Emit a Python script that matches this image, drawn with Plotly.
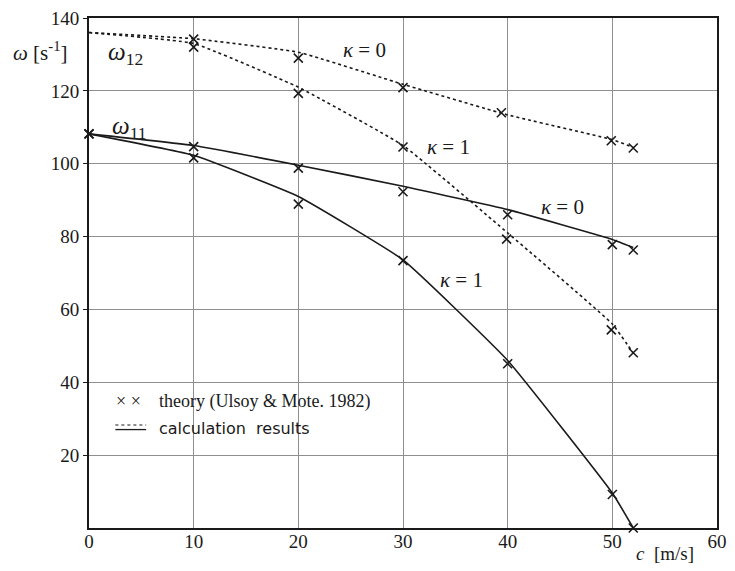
import plotly.graph_objects as go

# Belt speed c [m/s]
c_theory = [0, 10, 20, 30, 40, 50, 52]
c_calc = [0, 10, 20, 30, 40, 50, 52]

# Theory (Ulsoy & Mote, 1982), natural frequencies omega [1/s]
w11_k0_theory = [108.2, 104.7, 98.8, 92.3, 86.0, 77.8, 76.3]
w11_k1_theory = [108.2, 101.6, 88.9, 73.4, 45.1, 9.2, 0.0]
c_w12_k0_theory = [10, 20, 30, 39.4, 49.9, 52]
w12_k0_theory = [134.2, 129.0, 120.9, 114.0, 106.3, 104.3]
c_w12_k1_theory = [10, 20, 30, 39.9, 49.9, 52]
w12_k1_theory = [132.0, 119.3, 104.6, 79.3, 54.4, 48.1]

# Calculation results
w11_k0_calc = [108.2, 105.0, 99.6, 93.8, 87.4, 79.2, 77.0]
w11_k1_calc = [108.2, 102.3, 91.0, 73.6, 46.0, 9.6, 0.0]
w12_k0_calc = [136.0, 134.3, 130.6, 121.8, 113.4, 106.6, 104.5]
w12_k1_calc = [136.0, 133.0, 121.0, 105.0, 81.0, 56.0, 48.0]

x_ticks = [0, 10, 20, 30, 40, 50, 60]
y_ticks = [20, 40, 60, 80, 100, 120, 140]

SERIF = "Liberation Serif"
SANS = "DejaVu Sans"
INK = "#1a1a1a"

fig = go.Figure()

def calc_line(x, y, dash):
    fig.add_trace(go.Scatter(
        x=x, y=y, mode="lines", line=dict(color=INK, width=1.6, dash=dash,
                                          shape="spline", smoothing=0.35),
        showlegend=False, hoverinfo="skip"))

calc_line(c_calc, w12_k0_calc, "dot")
calc_line(c_calc, w12_k1_calc, "dot")
calc_line(c_calc, w11_k0_calc, "solid")
calc_line(c_calc, w11_k1_calc, "solid")

def theory_pts(x, y):
    fig.add_trace(go.Scatter(
        x=x, y=y, mode="markers",
        marker=dict(symbol="x-thin", size=9, line=dict(color=INK, width=1.6)),
        showlegend=False, cliponaxis=False))

theory_pts(c_theory, w11_k0_theory)
theory_pts(c_theory, w11_k1_theory)
theory_pts(c_w12_k0_theory, w12_k0_theory)
theory_pts(c_w12_k1_theory, w12_k1_theory)

ann = []
def label(x, y, text, size=19, xanchor="center", xref="x", yref="y", family=SERIF):
    ann.append(dict(x=x, y=y, xref=xref, yref=yref, text=text, showarrow=False,
                    xanchor=xanchor, yanchor="middle",
                    font=dict(family=family, size=size, color=INK)))

label(1.6, 130.2, "<i>ω</i><sub>12</sub>", 25, "left")
label(2.0, 110.0, "<i>ω</i><sub>11</sub>", 25, "left")
label(26.3, 131.2, "<i>κ</i> = 0", 21)
label(34.3, 104.6, "<i>κ</i> = 1", 21)
label(45.2, 88.0, "<i>κ</i> = 0", 21)
label(35.6, 68.2, "<i>κ</i> = 1", 21)

# Axis titles
label(-0.125, 0.934, "<i>ω</i> [s<sup>-1</sup>]", 21, "left", "paper", "paper")
label(0.868, -0.05, "<i>c</i>  [m/s]", 19, "left", "paper", "paper")

# Legend box contents
label(0.040, 0.249, "× ×", 18, "left", "paper", "paper")
label(0.108, 0.249, "theory (Ulsoy &amp; Mote. 1982)", 18, "left", "paper", "paper")
label(0.108, 0.196, "calculation  results", 16, "left", "paper", "paper", SANS)

shapes = [
    dict(type="rect", xref="paper", yref="paper", x0=0.002, x1=0.51, y0=0.148, y1=0.276,
         fillcolor="white", line=dict(width=0), layer="between"),
    dict(type="line", xref="paper", yref="paper", x0=0.042, x1=0.091, y0=0.202, y1=0.202,
         line=dict(color=INK, width=1.2, dash="dot")),
    dict(type="line", xref="paper", yref="paper", x0=0.042, x1=0.091, y0=0.193, y1=0.193,
         line=dict(color=INK, width=1.3)),
]

axis_common = dict(
    showline=True, linecolor=INK, linewidth=1.8, mirror=True,
    showgrid=True, gridcolor="#8f8f8f", gridwidth=0.9,
    zeroline=False, tickcolor=INK,
    tickfont=dict(family=SERIF, size=19, color=INK),
)

fig.update_layout(
    width=735, height=571,
    margin=dict(l=89, r=8, t=13, b=43),
    paper_bgcolor="white", plot_bgcolor="white",
    xaxis=dict(range=[0, 60], tickvals=x_ticks, ticks="", ticklabelstandoff=-5,
               **axis_common),
    yaxis=dict(range=[0, 140], tickvals=y_ticks, ticks="outside", ticklen=4,
               **axis_common),
    annotations=ann, shapes=shapes, showlegend=False,
)

fig.write_html("out.html")
